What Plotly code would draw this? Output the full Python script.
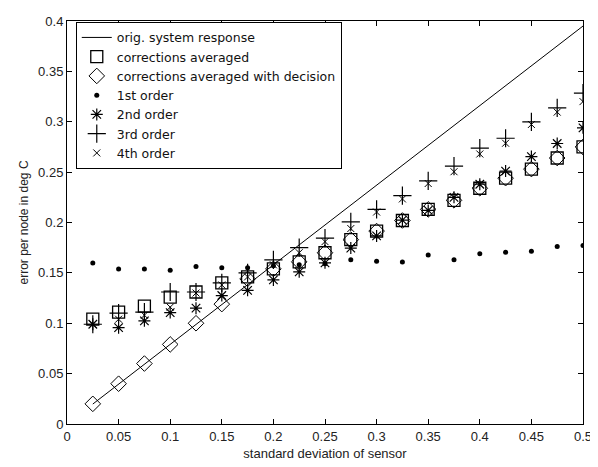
import plotly.graph_objects as go

x_vals = [0.025, 0.05, 0.075, 0.1, 0.125, 0.15, 0.175, 0.2, 0.225, 0.25,
          0.275, 0.3, 0.325, 0.35, 0.375, 0.4, 0.425, 0.45, 0.475, 0.5]

orig_response = [0.0198, 0.0395, 0.0593, 0.079, 0.0988, 0.1185, 0.1383, 0.158, 0.1778, 0.1975,
                 0.2173, 0.237, 0.2568, 0.2765, 0.2963, 0.316, 0.3358, 0.3555, 0.3753, 0.395]
corr_avg = [0.104, 0.111, 0.117, 0.126, 0.131, 0.140, 0.146, 0.154, 0.161, 0.170,
            0.183, 0.1915, 0.202, 0.213, 0.222, 0.234, 0.244, 0.253, 0.264, 0.275]
corr_avg_dec = [0.020, 0.040, 0.060, 0.079, 0.100, 0.119, 0.144, 0.154, 0.161, 0.170,
                0.183, 0.1915, 0.202, 0.213, 0.222, 0.234, 0.244, 0.253, 0.264, 0.275]
order1 = [0.1597, 0.1538, 0.1538, 0.1525, 0.1564, 0.155, 0.155, 0.157, 0.158, 0.159,
          0.163, 0.1616, 0.1607, 0.1678, 0.163, 0.169, 0.1704, 0.1714, 0.1763, 0.1772]
order2 = [0.099, 0.0956, 0.1024, 0.1106, 0.115, 0.1275, 0.1327, 0.143, 0.151, 0.160,
          0.1746, 0.1867, 0.2023, 0.212, 0.225, 0.238, 0.251, 0.2654, 0.2784, 0.294]
order3 = [0.099, 0.110, 0.111, 0.131, 0.131, 0.140, 0.150, 0.163, 0.175, 0.1844,
          0.2007, 0.213, 0.2267, 0.2413, 0.256, 0.2738, 0.2836, 0.2998, 0.3138, 0.3285]
order4 = [0.099, 0.104, 0.108, 0.116, 0.130, 0.138, 0.146, 0.158, 0.170, 0.181,
          0.194, 0.2104, 0.2234, 0.2387, 0.2504, 0.268, 0.2787, 0.2973, 0.3096, 0.320]

x_ticks = [0, 0.05, 0.1, 0.15, 0.2, 0.25, 0.3, 0.35, 0.4, 0.45, 0.5]
x_tick_text = ["0", "0.05", "0.1", "0.15", "0.2", "0.25", "0.3", "0.35", "0.4", "0.45", "0.5"]
y_ticks = [0, 0.05, 0.1, 0.15, 0.2, 0.25, 0.3, 0.35, 0.4]
y_tick_text = ["0", "0.05", "0.1", "0.15", "0.2", "0.25", "0.3", "0.35", "0.4"]

fig = go.Figure()
fig.add_trace(go.Scatter(x=x_vals, y=orig_response, mode="lines", name="orig. system response",
                         line=dict(color="black", width=1)))
fig.add_trace(go.Scatter(x=x_vals, y=corr_avg, mode="markers", name="corrections averaged",
                         marker=dict(symbol="square-open", size=12, color="black", line=dict(width=1.3))))
fig.add_trace(go.Scatter(x=x_vals, y=corr_avg_dec, mode="markers", name="corrections averaged with decision",
                         marker=dict(symbol="diamond-open", size=12, color="black", line=dict(width=1))))
fig.add_trace(go.Scatter(x=x_vals, y=order1, mode="markers", name="1st order",
                         marker=dict(symbol="circle", size=5, color="black")))
fig.add_trace(go.Scatter(x=x_vals, y=order2, mode="markers", name="2nd order",
                         marker=dict(symbol="asterisk-open", size=10, color="black", line=dict(width=1.2, color="black"))))
fig.add_trace(go.Scatter(x=x_vals, y=order3, mode="markers", name="3rd order",
                         marker=dict(symbol="cross-thin-open", size=13, color="black", line=dict(width=1.2, color="black"))))
fig.add_trace(go.Scatter(x=x_vals, y=order4, mode="markers", name="4th order",
                         marker=dict(symbol="x-thin-open", size=7, color="black", line=dict(width=1, color="black"))))

axis_common = dict(showgrid=False, zeroline=False, showline=True, linecolor="black", linewidth=1,
                   mirror="allticks", ticks="inside", ticklen=5, tickcolor="black",
                   ticklabeloverflow="allow",
                   tickfont=dict(family="Liberation Sans, Arial, sans-serif", size=13, color="#222"))

fig.update_xaxes(range=[0, 0.5], tickvals=x_ticks, ticktext=x_tick_text,
                 title=dict(text="standard deviation of sensor", font=dict(size=13, color="#222"), standoff=6),
                 **axis_common)
fig.update_yaxes(range=[0, 0.4], tickvals=y_ticks, ticktext=y_tick_text,
                 title=dict(text="error per node in deg C", font=dict(size=12, color="#222"), standoff=6),
                 **axis_common)

fig.update_layout(
    width=590, height=459,
    margin=dict(l=59, r=8, t=6, b=43),
    paper_bgcolor="white", plot_bgcolor="white",
    font=dict(family="Liberation Sans, Arial, sans-serif", color="black"),
    legend=dict(x=0.017, y=0.998, xanchor="left", yanchor="top",
                bordercolor="black", borderwidth=1, bgcolor="white",
                font=dict(family="DejaVu Sans, sans-serif", size=12.5, color="#111"),
                tracegroupgap=0, itemwidth=30),
    showlegend=True,
)

fig.write_html("out.html")
